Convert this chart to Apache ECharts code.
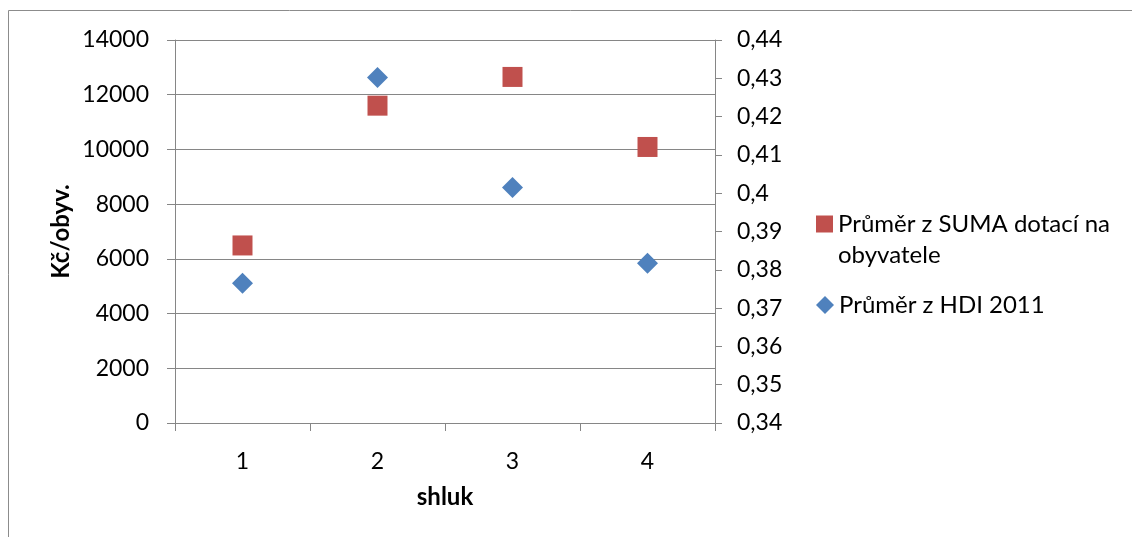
<!DOCTYPE html>
<html><head><meta charset="utf-8">
<script src="https://cdn.jsdelivr.net/npm/echarts@6/dist/echarts.min.js"></script>
<style>html,body{margin:0;padding:0;background:#fff}#c{width:1132px;height:537px}</style>
</head><body><div id="c"></div>
<script>
const categories = ['1','2','3','4'];
const sumaDotaci = [6490, 11600, 12650, 10090];
const hdi2011 = [0.3765, 0.4302, 0.4015, 0.3817];
const leftTicks = {min: 0, max: 14000, interval: 2000};
const rightTicks = {min: 0.34, max: 0.44, interval: 0.01};
const nameA = 'Průměr z SUMA dotací na obyvatele';
const nameB = 'Průměr z HDI 2011';
const nameALine1 = 'Průměr z SUMA dotací na';
const nameALine2 = 'obyvatele';

const FONT = 'Lato, "Open Sans", sans-serif';
const chart = echarts.init(document.getElementById('c'));
chart.setOption({
  animation: false,
  backgroundColor: '#fff',
  textStyle: {fontFamily: FONT},
  graphic: [
    {type: 'rect', shape: {x: 8.5, y: 10.5, width: 1200, height: 600}, style: {fill: 'none', stroke: '#8c8c8c', lineWidth: 1}, silent: true},
    {type: 'text', left: 838, top: 243, style: {text: nameALine2, font: '24px ' + FONT, fill: '#000'}, silent: true}
  ],
  grid: {left: 175, right: 417, top: 40, bottom: 114},
  legend: [{
    left: 816, top: 212, padding: 0, itemWidth: 17, itemHeight: 17,
    textStyle: {fontSize: 24, color: '#000', fontFamily: FONT},
    formatter: () => nameALine1,
    data: [{name: nameA, icon: 'rect'}]
  }, {
    left: 816, top: 293, padding: 0, itemWidth: 18, itemHeight: 18,
    textStyle: {fontSize: 24, color: '#000', fontFamily: FONT},
    data: [{name: nameB, icon: 'diamond'}]
  }],
  xAxis: {
    type: 'category', data: categories, boundaryGap: true,
    name: 'shluk', nameLocation: 'middle', nameGap: 62,
    nameTextStyle: {fontSize: 24, fontWeight: 'bold', color: '#000'},
    axisLine: {lineStyle: {color: '#868686', width: 1}},
    axisTick: {show: true, length: 8, lineStyle: {color: '#868686'}},
    axisLabel: {color: '#000', fontSize: 23, margin: 27}
  },
  yAxis: [{
    type: 'value', min: leftTicks.min, max: leftTicks.max, interval: leftTicks.interval,
    name: 'Kč/obyv.', nameLocation: 'middle', nameGap: 102, nameRotate: 90,
    nameTextStyle: {fontSize: 24, fontWeight: 'bold', color: '#000'},
    axisLine: {show: true, lineStyle: {color: '#868686'}},
    axisTick: {show: true, length: 8, lineStyle: {color: '#868686'}},
    axisLabel: {color: '#000', fontSize: 23, margin: 26, formatter: v => String(v)},
    splitLine: {show: true, lineStyle: {color: '#868686', width: 1}}
  }, {
    type: 'value', position: 'right', min: rightTicks.min, max: rightTicks.max, interval: rightTicks.interval,
    axisLine: {show: true, lineStyle: {color: '#868686'}},
    axisTick: {show: true, length: 7, lineStyle: {color: '#868686'}},
    axisLabel: {color: '#000', fontSize: 23, margin: 22,
      formatter: v => parseFloat(v.toFixed(2)).toString().replace('.', ',')},
    splitLine: {show: false}
  }],
  series: [{
    name: nameA, type: 'scatter', yAxisIndex: 0, data: sumaDotaci,
    symbol: 'rect', symbolSize: 20, itemStyle: {color: '#C0504D', opacity: 1}
  }, {
    name: nameB, type: 'scatter', yAxisIndex: 1, data: hdi2011,
    symbol: 'diamond', symbolSize: 21, itemStyle: {color: '#4F81BD', opacity: 1}
  }]
});
</script></body></html>
